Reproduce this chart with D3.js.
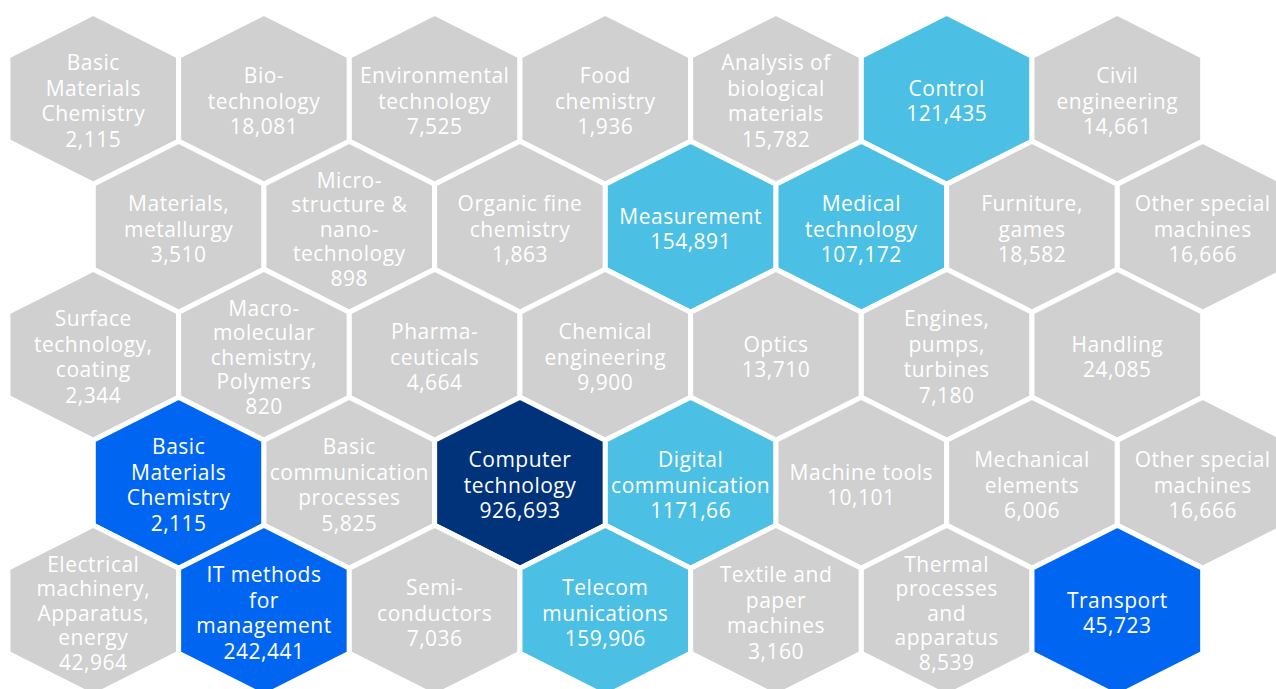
<!DOCTYPE html>
<html>
<head>
<meta charset="utf-8">
<script src="https://cdn.jsdelivr.net/npm/d3@7"></script>
<style>
  html, body { margin: 0; padding: 0; background: #ffffff; }
  svg { display: block; }
</style>
</head>
<body>
<div id="chart"></div>
<script>
// ---- data ----
const rowIndex = [0,0,0,0,0,0,0, 1,1,1,1,1,1,1, 2,2,2,2,2,2,2, 3,3,3,3,3,3,3, 4,4,4,4,4,4,4];
const colIndex = [0,1,2,3,4,5,6, 0,1,2,3,4,5,6, 0,1,2,3,4,5,6, 0,1,2,3,4,5,6, 0,1,2,3,4,5,6];
const categories = [
  "Basic|Materials|Chemistry", "Bio-|technology", "Environmental|technology", "Food|chemistry",
  "Analysis of|biological|materials", "Control", "Civil|engineering",
  "Materials,|metallurgy", "Micro-|structure &|nano-|technology", "Organic fine|chemistry", "Measurement",
  "Medical|technology", "Furniture,|games", "Other special|machines",
  "Surface|technology,|coating", "Macro-|molecular|chemistry,|Polymers", "Pharma-|ceuticals", "Chemical|engineering",
  "Optics", "Engines,|pumps,|turbines", "Handling",
  "Basic|Materials|Chemistry", "Basic|communication|processes", "Computer|technology", "Digital|communication",
  "Machine tools", "Mechanical|elements", "Other special|machines",
  "Electrical|machinery,|Apparatus,|energy", "IT methods|for|management", "Semi-|conductors", "Telecom|munications",
  "Textile and|paper|machines", "Thermal|processes|and|apparatus", "Transport"
];
const valueLabels = [
  "2,115", "18,081", "7,525", "1,936", "15,782", "121,435", "14,661",
  "3,510", "898", "1,863", "154,891", "107,172", "18,582", "16,666",
  "2,344", "820", "4,664", "9,900", "13,710", "7,180", "24,085",
  "2,115", "5,825", "926,693", "1171,66", "10,101", "6,006", "16,666",
  "42,964", "242,441", "7,036", "159,906", "3,160", "8,539", "45,723"
];
// colour group: 0 = grey, 1 = light blue, 2 = blue, 3 = navy
const groups = [
  0,0,0,0,0,1,0,
  0,0,0,1,1,0,0,
  0,0,0,0,0,0,0,
  2,0,3,1,0,0,0,
  0,2,0,1,0,0,2
];
const groupColors = ["#d0d0d0", "#4bbfe4", "#0066f1", "#00337a"];

// ---- layout ----
const W = 1276, H = 689;
const cellW = 170.67, rowH = 128;
const halfW = cellW / 2, tipH = 85.5, shoulderH = rowH - tipH;

const svg = d3.select("#chart").append("svg")
  .attr("width", W).attr("height", H);

const x = d3.scaleLinear().domain([0, 12]).range([93.3, 93.3 + 12 * halfW]);
const y = d3.scaleLinear().domain([0, 4]).range([98.7, 98.7 + 4 * rowH]);
const color = d3.scaleOrdinal().domain([0,1,2,3]).range(groupColors);

const hexPoints = [[0,-tipH],[halfW,-shoulderH],[halfW,shoulderH],[0,tipH],[-halfW,shoulderH],[-halfW,-shoulderH]];
const hexPath = d3.line()(hexPoints) + "Z";

const data = categories.map((c, i) => ({
  lines: c.split("|").concat([valueLabels[i]]),
  row: rowIndex[i], col: colIndex[i], group: groups[i]
}));

const cells = svg.selectAll("g.cell").data(data).join("g")
  .attr("class", "cell")
  .attr("transform", d => `translate(${x(2 * d.col + (d.row % 2))},${y(d.row)})`);

cells.append("path")
  .attr("d", hexPath)
  .attr("fill", d => color(d.group))
  .attr("stroke", "#ffffff")
  .attr("stroke-width", 5)
  .attr("stroke-linejoin", "miter");

cells.append("text")
  .attr("text-anchor", "middle")
  .attr("fill", "#ffffff")
  .attr("font-family", "'Open Sans', sans-serif")
  .attr("font-size", 21)
  .attr("letter-spacing", 0.5)
  .selectAll("tspan")
  .data(d => d.lines.map((t, k) => ({ t, k, n: d.lines.length })))
  .join("tspan")
  .attr("x", 0)
  .attr("y", l => {
    const lh = l.n >= 5 ? 24.5 : 25.5;
    return (l.k - (l.n - 1) / 2) * lh + 10;
  })
  .text(l => l.t);
</script>
</body>
</html>
